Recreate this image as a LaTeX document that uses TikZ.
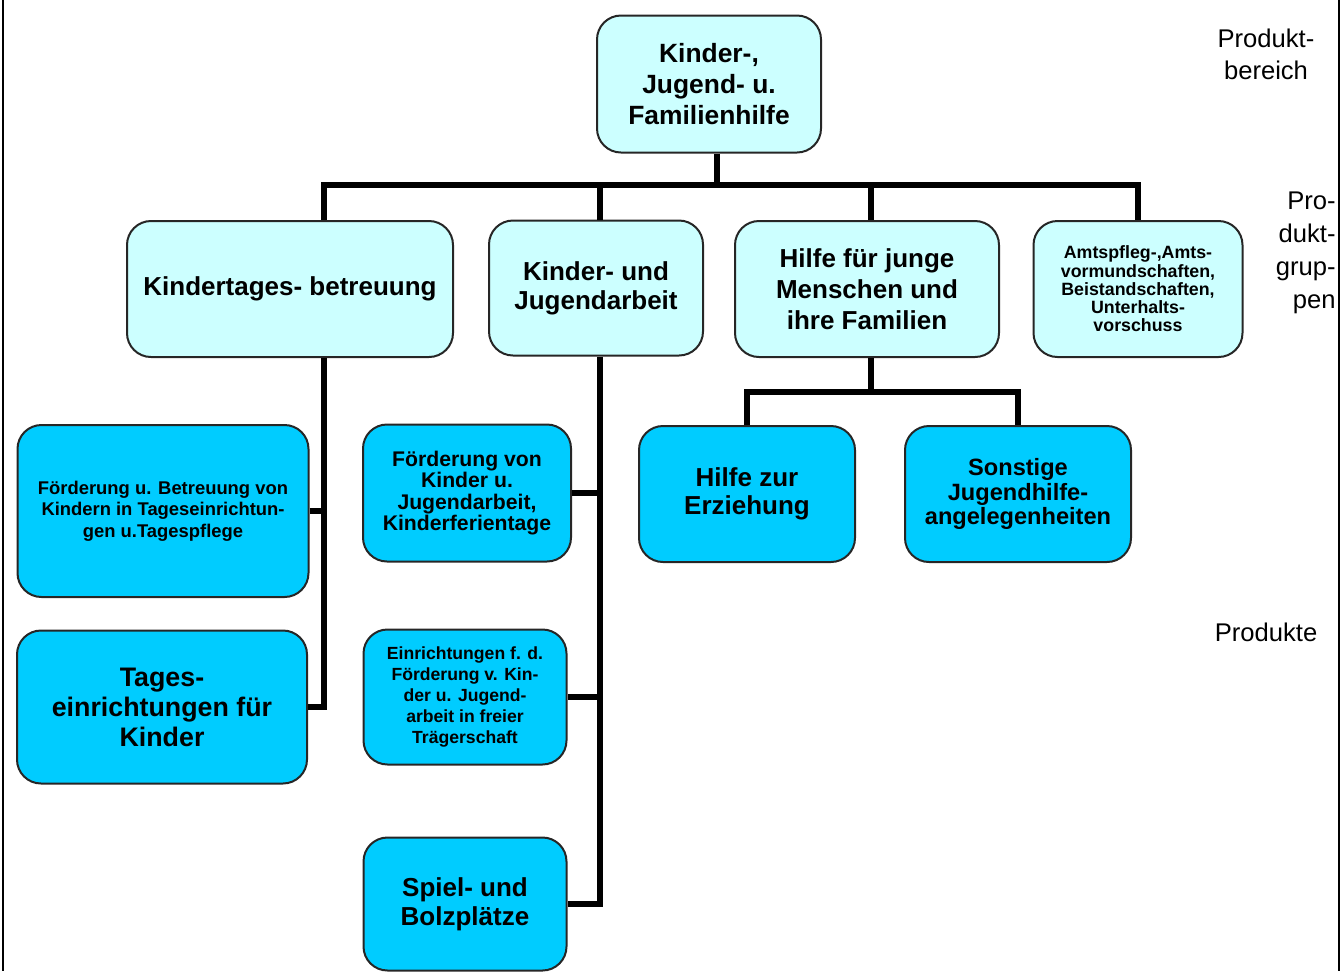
\documentclass[tikz,border=0pt]{standalone}
\usepackage{fontspec}
\setmainfont{Liberation Sans}
\usepackage{tikz}
\usetikzlibrary{positioning}
\usepackage{xcolor}

\definecolor{grpcyan}{HTML}{CCFFFF}
\definecolor{prodcyan}{HTML}{00CCFF}
\newcommand{\setfs}[2]{\fontsize{#1}{#2}\selectfont}

\begin{document}
\begin{tikzpicture}[x=0.5pt, y=-0.5pt,
    grp/.style={draw=black!85, line width=1pt, rounded corners=12pt, fill=grpcyan,
                align=center, font=\bfseries, inner sep=0pt},
    prod/.style={grp, fill=prodcyan},
    txt/.style 2 args={font=\bfseries\setfs{#1}{#2}},
    conn/.style={line width=2.6pt},
    side/.style={align=center, inner sep=0pt, font=\setfs{12.8}{16}},
    frame/.style={line width=1.4pt}]
    \useasboundingbox (0,0) rectangle (1344,971);

    % Produktbereich
    \node[grp, txt={13.2}{15.5}, minimum width=112pt, minimum height=68.5pt] (root) at (709,84)
        {Kinder-,\\Jugend- u.\\Familienhilfe};

    % Produktgruppen
    \node[grp, txt={13}{15}, minimum width=163pt, minimum height=68pt] (kita) at (290,289)
        {Kindertages- betreuung};
    \node[grp, txt={13}{14.5}, minimum width=107pt, minimum height=67.5pt] (kiju) at (596,288)
        {Kinder- und\\Jugendarbeit};
    \node[grp, txt={13}{15.5}, minimum width=132pt, minimum height=68pt] (hjm) at (867,289)
        {Hilfe für junge\\Menschen und\\ihre Familien};
    \node[grp, txt={8.9}{9.1}, minimum width=104.5pt, minimum height=68pt] (amts) at (1138,289)
        {Amtspfleg-,Amts-\\vormundschaften,\\Beistandschaften,\\Unterhalts-\\vorschuss};

    % Produkte
    \node[prod, txt={9.2}{10.7}, minimum width=145.5pt, minimum height=86pt] (betr) at (163,511)
        {Förderung u. Betreuung von\\Kindern in Tageseinrichtun-\\gen u.Tagespflege};
    \node[prod, txt={13.4}{15}, minimum width=145pt, minimum height=76.5pt] (tages) at (162,707)
        {Tages-\\einrichtungen für\\Kinder};
    \node[prod, txt={10.6}{10.6}, minimum width=104pt, minimum height=68.5pt] (foerd) at (467,493)
        {Förderung von\\Kinder u.\\Jugendarbeit,\\Kinderferientage};
    \node[prod, txt={8.8}{10.5}, minimum width=101.5pt, minimum height=67.5pt] (einr) at (465,697)
        {Einrichtungen f. d.\\Förderung v. Kin-\\der u. Jugend-\\arbeit in freier\\Trägerschaft};
    \node[prod, txt={13}{14.5}, minimum width=101.5pt, minimum height=66.5pt] (spiel) at (465,904)
        {Spiel- und\\Bolzplätze};
    \node[prod, txt={13}{14}, minimum width=108pt, minimum height=68pt] (hze) at (747,494)
        {Hilfe zur\\Erziehung};
    \node[prod, txt={11.8}{10.8}, minimum width=113pt, minimum height=68pt] (sonst) at (1018,494)
        {Sonstige\\Jugendhilfe-\\angelegenheiten};

    % Ebenen
    \node[side] (lbereich) at (1266,54) {Produkt-\\bereich};
    \node[side, align=right, anchor=east, font=\setfs{12.8}{16.5}] (lgruppen) at (1336,253)
        {Pro-\\dukt-\\grup-\\pen};
    \node[side] (lprodukte) at (1266,632) {Produkte};

    % Verbindungen
    \coordinate (bus) at (0,185);
    \coordinate (hjmbus) at (0,392);
    \coordinate (kitaout) at ([xshift=17pt]kita.south);
    \coordinate (kijuout) at ([xshift=2pt]kiju.south);
    \coordinate (hjmout) at ([xshift=2pt]hjm.south);

    \draw[conn] ([xshift=4pt]root.south) -- ([xshift=4pt]root.south |- bus);
    \draw[conn] ([xshift=17pt]kita.north) |- (bus -| amts.north) -- (amts.north);
    \draw[conn] ([xshift=2pt]kiju.north) -- ([xshift=2pt]kiju.north |- bus);
    \draw[conn] ([xshift=2pt]hjm.north) -- ([xshift=2pt]hjm.north |- bus);

    \draw[conn] (kitaout) |- (tages.east);
    \draw[conn] (betr.east) -- (betr.east -| kitaout);

    \draw[conn] (kijuout) |- (spiel.east);
    \draw[conn] (foerd.east) -- (foerd.east -| kijuout);
    \draw[conn] (einr.east) -- (einr.east -| kijuout);

    \draw[conn] (hjmout) -- (hjmout |- hjmbus);
    \draw[conn] (hze.north) |- (hjmbus -| sonst.north) -- (sonst.north);

    % Rahmen
    \draw[frame] (3,0) -- (3,971);
    \draw[frame] (1339,0) -- (1339,971);
\end{tikzpicture}
\end{document}
